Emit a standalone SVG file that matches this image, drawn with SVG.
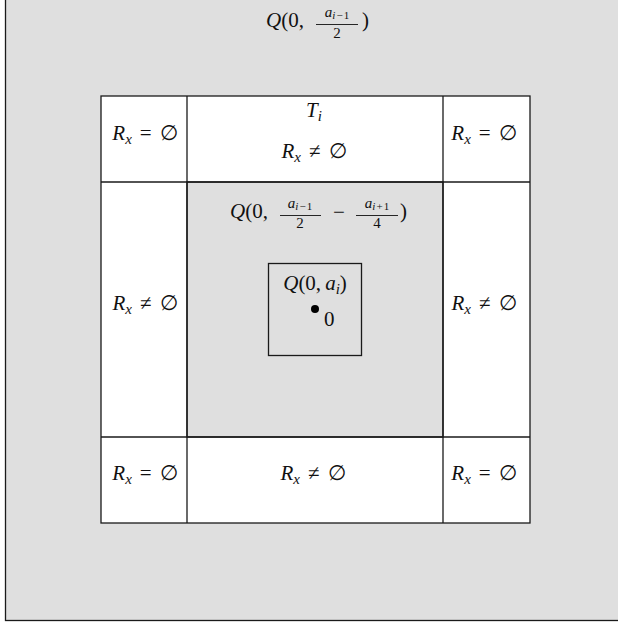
<svg xmlns="http://www.w3.org/2000/svg" width="618" height="623" viewBox="0 0 618 623">
<style>
.m{font-family:"Liberation Serif","DejaVu Serif",serif;font-size:21px;fill:#111}
.s{font-size:15px}
.t{font-size:11px}
.i{font-style:italic}
.b{stroke:#1a1a1a;stroke-width:1.3;fill:none}
.g{fill:#dfdfdf;stroke:#1a1a1a;stroke-width:1.3}
.w{fill:#fff;stroke:#1a1a1a;stroke-width:1.3}
.bar{stroke:#111;stroke-width:0.9}
</style>
<rect width="618" height="623" fill="#fff"/>
<g id="outer">
<rect class="g" x="5.5" y="-2" width="620" height="622.5"/>
<text class="m" x="266" y="27"><tspan class="i">Q</tspan>(0,</text>
<text class="m s" x="337" y="17" text-anchor="middle"><tspan class="i">a</tspan><tspan class="i t" dy="2">i</tspan><tspan class="t" dx="1">−</tspan><tspan class="t" dx="1">1</tspan></text>
<line class="bar" x1="316" y1="24.5" x2="358" y2="24.5"/>
<text class="m s" x="337" y="38" text-anchor="middle">2</text>
<text class="m" x="362" y="27">)</text>
</g>
<g id="grid">
<rect class="w" x="101" y="96" width="429" height="427"/>
<rect class="g" x="187" y="182" width="256" height="255"/>
<line class="b" x1="187" y1="96" x2="187" y2="523"/>
<line class="b" x1="443" y1="96" x2="443" y2="523"/>
<line class="b" x1="101" y1="182" x2="530" y2="182"/>
<line class="b" x1="101" y1="437" x2="530" y2="437"/>
</g>
<g id="top-left"><text class="m" x="145" y="140" text-anchor="middle"><tspan class="i">R</tspan><tspan class="i s" dy="4">x</tspan><tspan dy="-4" dx="8">=</tspan><tspan dx="8">∅</tspan></text></g>
<g id="top-mid">
<text class="m" x="314" y="117" text-anchor="middle"><tspan class="i">T</tspan><tspan class="i s" dy="4">i</tspan></text>
<text class="m" x="314" y="158" text-anchor="middle"><tspan class="i">R</tspan><tspan class="i s" dy="4">x</tspan><tspan dy="-4" dx="8">≠</tspan><tspan dx="8">∅</tspan></text>
</g>
<g id="top-right"><text class="m" x="484" y="140" text-anchor="middle"><tspan class="i">R</tspan><tspan class="i s" dy="4">x</tspan><tspan dy="-4" dx="8">=</tspan><tspan dx="8">∅</tspan></text></g>
<g id="mid-left"><text class="m" x="145" y="310" text-anchor="middle"><tspan class="i">R</tspan><tspan class="i s" dy="4">x</tspan><tspan dy="-4" dx="8">≠</tspan><tspan dx="8">∅</tspan></text></g>
<g id="mid-right"><text class="m" x="484" y="310" text-anchor="middle"><tspan class="i">R</tspan><tspan class="i s" dy="4">x</tspan><tspan dy="-4" dx="8">≠</tspan><tspan dx="8">∅</tspan></text></g>
<g id="center">
<text class="m" x="230" y="218"><tspan class="i">Q</tspan>(0,</text>
<text class="m s" x="300" y="208" text-anchor="middle"><tspan class="i">a</tspan><tspan class="i t" dy="2">i</tspan><tspan class="t" dx="1">−</tspan><tspan class="t" dx="1">1</tspan></text>
<line class="bar" x1="280" y1="215.5" x2="321" y2="215.5"/>
<text class="m s" x="300" y="228" text-anchor="middle">2</text>
<text class="m" x="339" y="219" text-anchor="middle">−</text>
<text class="m s" x="377" y="208" text-anchor="middle"><tspan class="i">a</tspan><tspan class="i t" dy="2">i</tspan><tspan class="t" dx="1">+</tspan><tspan class="t" dx="1">1</tspan></text>
<line class="bar" x1="356" y1="215.5" x2="398" y2="215.5"/>
<text class="m s" x="377" y="228" text-anchor="middle">4</text>
<text class="m" x="400" y="218">)</text>
</g>
<g id="inner">
<rect class="b" x="268.5" y="263.5" width="93" height="92"/>
<text class="m" x="315" y="290" text-anchor="middle"><tspan class="i">Q</tspan>(0,<tspan class="i" dx="4">a</tspan><tspan class="i s" dy="4">i</tspan><tspan dy="-4">)</tspan></text>
<circle cx="315" cy="309" r="4" fill="#000"/>
<text class="m" x="324" y="326">0</text>
</g>
<g id="bottom-left"><text class="m" x="145" y="480" text-anchor="middle"><tspan class="i">R</tspan><tspan class="i s" dy="4">x</tspan><tspan dy="-4" dx="8">=</tspan><tspan dx="8">∅</tspan></text></g>
<g id="bottom-mid"><text class="m" x="313" y="480" text-anchor="middle"><tspan class="i">R</tspan><tspan class="i s" dy="4">x</tspan><tspan dy="-4" dx="8">≠</tspan><tspan dx="8">∅</tspan></text></g>
<g id="bottom-right"><text class="m" x="484" y="480" text-anchor="middle"><tspan class="i">R</tspan><tspan class="i s" dy="4">x</tspan><tspan dy="-4" dx="8">=</tspan><tspan dx="8">∅</tspan></text></g>
<g id="connectors"/>
</svg>
